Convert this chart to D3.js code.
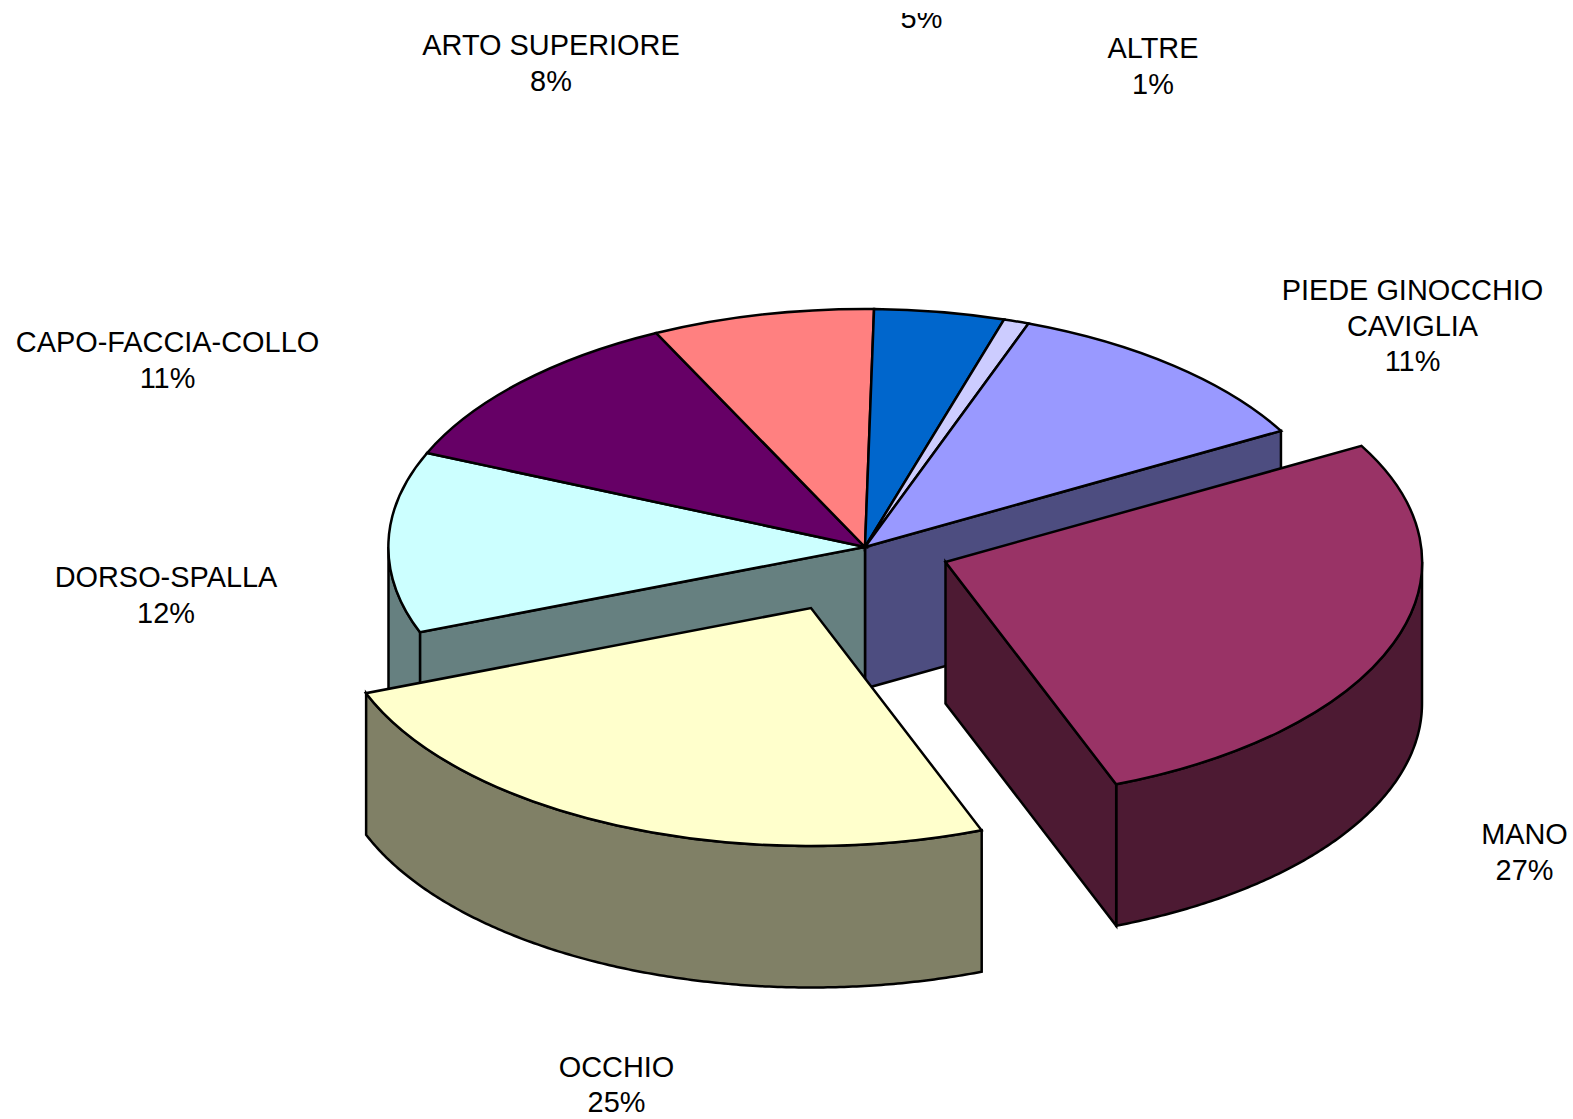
<!DOCTYPE html>
<html>
<head>
<meta charset="utf-8">
<style>
html,body{margin:0;padding:0;background:#fff;overflow:hidden}
svg{display:block}
text{font-family:"Liberation Sans",Arial,sans-serif;font-size:28.9px;fill:#000;text-anchor:middle}
</style>
<script src="https://cdnjs.cloudflare.com/ajax/libs/d3/7.8.5/d3.min.js"></script>
</head>
<body>
<script>
// ---- data ----
const categories = ["MANO","OCCHIO","DORSO-SPALLA","CAPO-FACCIA-COLLO","ARTO SUPERIORE","","ALTRE","PIEDE GINOCCHIO|CAVIGLIA"];
const values     = [27.28,25,12.29,11.32,7.52,4.42,0.86,11.31];
const percentLabels = ["27%","25%","12%","11%","8%","5%","1%","11%"];
const topColors  = ["#993366","#FFFFCC","#CCFFFF","#660066","#FF8080","#0066CC","#CCCCFF","#9999FF"];
const wallColors = ["#4D1A33","#808066","#668080","#330033","#804040","#003366","#666680","#4D4D80"];
// ---- layout ----
const W = 1573, H = 1119;
const cx = 865, cy = 547, rx = 476.5, ry = 238, depth = 141.5;
const startDeg = 60.8;
const explode = [[80.5,15],[-54,61],[0,0],[0,0],[0,0],[0,0],[0,0],[0,0]];
const labelPos = [[1524.5,844],[616.5,1076.5],[166,587],[167.5,352],[551,55],[921.5,-7.5],[1153,58],[1412.5,300]];
const lineGap = 35.5;
const labelClipTop = 13;

const rad = d => d*Math.PI/180;
const svg = d3.select("body").append("svg").attr("width",W).attr("height",H).attr("viewBox",`0 0 ${W} ${H}`);
svg.append("defs").append("clipPath").attr("id","page-clip").append("rect")
   .attr("x",0).attr("y",labelClipTop).attr("width",W).attr("height",H-labelClipTop);
const x = d3.scaleLinear().domain([-1,1]).range([-rx,rx]);
const y = d3.scaleLinear().domain([-1,1]).range([-ry,ry]);

const pie = d3.pie().sort(null).startAngle(rad(startDeg)).endAngle(rad(startDeg+360));
const arcs = pie(values);
const arcGen = d3.arc().innerRadius(0).outerRadius(1);
const line = d3.line().x(d=>d[0]).y(d=>d[1]);

const ex = (a,o) => [cx+o[0]+x(Math.sin(a)), cy+o[1]+y(-Math.cos(a))];
const stroke = s => s.attr("stroke","#000").attr("stroke-width",2.5).attr("stroke-linejoin","miter").attr("stroke-miterlimit",10);

function wallOuter(a0,a1,o,color){
  const n = Math.max(2,Math.ceil((a1-a0)/rad(0.5)));
  const ts = d3.range(n+1).map(i=>a0+(a1-a0)*i/n);
  const top = ts.map(t=>ex(t,o));
  const bot = ts.slice().reverse().map(t=>{const p=ex(t,o);return [p[0],p[1]+depth];});
  stroke(svg.append("path").attr("d",line(top.concat(bot))+"Z").attr("fill",color));
}
function wallCut(a,o,color){
  const c = [cx+o[0],cy+o[1]], p = ex(a,o);
  const pts = [c,p,[p[0],p[1]+depth],[c[0],c[1]+depth]];
  stroke(svg.append("path").attr("d",line(pts)+"Z").attr("fill",color));
}
function topFace(d,i){
  const o = explode[i];
  const g = svg.append("g").attr("transform",`translate(${cx+o[0]},${cy+o[1]}) scale(${rx},${ry})`);
  stroke(g.append("path").attr("d",arcGen(d)).attr("fill",topColors[i]).attr("vector-effect","non-scaling-stroke"));
}

// rest of the pie (back)
const DORSO=2, PIEDE=7, MANO=0, OCCHIO=1;
wallOuter(arcs[DORSO].startAngle, rad(270), explode[DORSO], wallColors[DORSO]);
wallCut(arcs[PIEDE].endAngle, explode[PIEDE], wallColors[PIEDE]);
wallCut(arcs[DORSO].startAngle, explode[DORSO], wallColors[DORSO]);
[2,3,4,5,6,7].forEach(i=>topFace(arcs[i],i));

// MANO
wallOuter(rad(90), arcs[MANO].endAngle, explode[MANO], wallColors[MANO]);
wallCut(arcs[MANO].endAngle, explode[MANO], wallColors[MANO]);
topFace(arcs[MANO],MANO);

// OCCHIO
wallOuter(arcs[OCCHIO].startAngle, arcs[OCCHIO].endAngle, explode[OCCHIO], wallColors[OCCHIO]);
topFace(arcs[OCCHIO],OCCHIO);

// labels (the page edge crops the label at the top)
const labels = svg.append("g").attr("clip-path","url(#page-clip)");
categories.forEach((c,i)=>{
  const lines = (c? c.split("|"):[]).concat(percentLabels[i]);
  const startY = c ? labelPos[i][1] : labelPos[i][1]+lineGap;
  const t = labels.append("text").attr("x",labelPos[i][0]).attr("y",startY);
  lines.forEach((l,k)=>t.append("tspan").attr("x",labelPos[i][0]).attr("y",startY+k*lineGap).text(l));
});
</script>
</body>
</html>
